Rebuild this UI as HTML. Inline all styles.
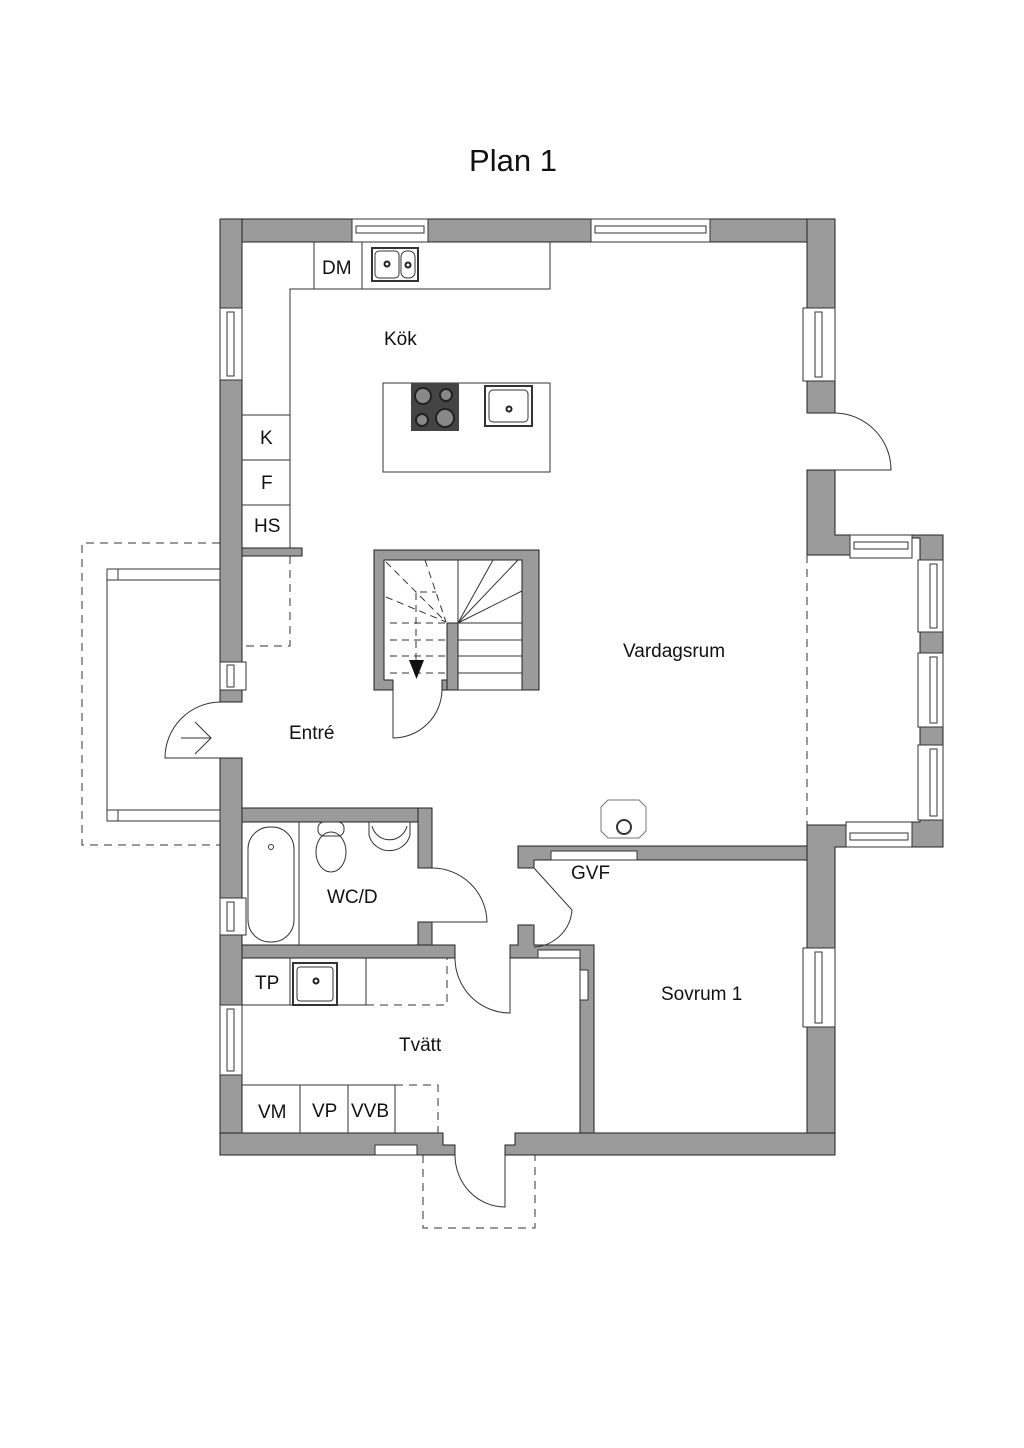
<!DOCTYPE html>
<html><head><meta charset="utf-8"><style>
html,body{margin:0;padding:0;background:#fff}
svg{display:block}
text{font-family:"Liberation Sans",sans-serif;fill:#111}
</style></head><body>
<svg width="1024" height="1448" viewBox="0 0 1024 1448" xmlns="http://www.w3.org/2000/svg">
<text x="513" y="171" font-size="31" text-anchor="middle">Plan 1</text>
<g fill="#9b9b9b" stroke="#222" stroke-width="1">
<rect x="220" y="219" width="132" height="23"/>
<rect x="428" y="219" width="163" height="23"/>
<rect x="710" y="219" width="125" height="23"/>
<rect x="220" y="219" width="22" height="89"/>
<rect x="220" y="380" width="22" height="282"/>
<rect x="220" y="690" width="22" height="12"/>
<rect x="220" y="758" width="22" height="140"/>
<rect x="220" y="935" width="22" height="70"/>
<rect x="220" y="1075" width="22" height="80"/>
<rect x="807" y="219" width="28" height="89"/>
<rect x="807" y="381" width="28" height="32"/>
<path d="M807 470 H835 V535 H850 V555 H807 Z"/>
<path d="M912 535 H943 V560 H920 V538 H912 Z"/>
<rect x="920" y="632" width="23" height="21"/>
<rect x="920" y="727" width="23" height="18"/>
<path d="M920 820 H943 V847 H912 V822 H920 Z"/>
<path d="M807 825 H846 V847 H835 V948 H807 Z"/>
<rect x="807" y="1027" width="28" height="128"/>
<path d="M220 1133 H443 V1145 H455 V1155 H220 Z"/>
<path d="M515 1133 H835 V1155 H505 V1145 H515 Z"/>
<rect x="242" y="808" width="190" height="14"/>
<rect x="418" y="808" width="14" height="60"/>
<rect x="418" y="922" width="14" height="25"/>
<rect x="242" y="945" width="213" height="13"/>
<path d="M518 846 H807 V860 H534 V868 H518 Z"/>
<path d="M518 925 H534 V945 H594 V1133 H580 V958 H510 V945 H518 Z"/>
<rect x="242" y="548" width="60" height="8"/>
<path d="M374 550 H539 V690 H522 V560 H384 V680 H393 V690 H374 Z"/>
<rect x="442" y="680" width="5" height="10"/>
<rect x="447" y="623" width="11" height="67"/>
</g>
<g fill="#fff" stroke="#333" stroke-width="1">
<rect x="352" y="219" width="76" height="23"/><rect x="356" y="226" width="68" height="7"/>
<rect x="591" y="219" width="119" height="23"/><rect x="595" y="226" width="111" height="7"/>
<rect x="220" y="308" width="22" height="72"/><rect x="227" y="312" width="7" height="64"/>
<rect x="220" y="662" width="26" height="28"/><rect x="227" y="665" width="7" height="22"/>
<rect x="220" y="898" width="26" height="37"/><rect x="227" y="902" width="7" height="29"/>
<rect x="220" y="1005" width="22" height="70"/><rect x="227" y="1009" width="7" height="62"/>
<rect x="803" y="308" width="32" height="73"/><rect x="815" y="312" width="7" height="65"/>
<rect x="803" y="948" width="32" height="79"/><rect x="815" y="952" width="7" height="71"/>
<rect x="850" y="535" width="62" height="23"/><rect x="854" y="542" width="54" height="7"/>
<rect x="846" y="822" width="66" height="25"/><rect x="850" y="833" width="58" height="7"/>
<rect x="918" y="560" width="25" height="72"/><rect x="930" y="564" width="7" height="64"/>
<rect x="918" y="653" width="25" height="74"/><rect x="930" y="657" width="7" height="66"/>
<rect x="918" y="745" width="25" height="75"/><rect x="930" y="749" width="7" height="67"/>
<rect x="375" y="1145" width="42" height="10"/>
<rect x="538" y="950" width="42" height="8"/>
<rect x="580" y="970" width="8" height="30"/>
<rect x="551" y="851" width="86" height="9"/>
</g>
<g fill="none" stroke="#333" stroke-width="1">
<path d="M550 242 V289 H290 V548"/>
<line x1="314" y1="242" x2="314" y2="289"/><line x1="362" y1="242" x2="362" y2="289"/>
<line x1="242" y1="415" x2="290" y2="415"/><line x1="242" y1="460" x2="290" y2="460"/><line x1="242" y1="505" x2="290" y2="505"/>
<rect x="383" y="383" width="167" height="89"/>
<rect x="485" y="386" width="47" height="40" stroke-width="2"/><rect x="489" y="390" width="39" height="32" rx="4"/>
<rect x="372" y="248" width="46" height="33" stroke-width="2"/><rect x="375" y="251" width="24" height="27" rx="4"/><rect x="401" y="251" width="14" height="27" rx="6"/>
<path d="M220 543 H82 V845 H220" stroke-dasharray="8,6"/>
<rect x="107" y="569" width="113" height="11"/><rect x="107" y="810" width="113" height="11"/>
<line x1="107" y1="580" x2="107" y2="810"/>
<line x1="118" y1="569" x2="118" y2="580"/><line x1="118" y1="810" x2="118" y2="821"/>
<path d="M220 702 A56 56 0 0 0 165 758 H220"/>
<path d="M181 738 H211 M195 722 L211 738 L195 754"/>
<path d="M290 556 V646 H242" stroke-dasharray="8,6"/>
<path d="M393 690 V738 A49 49 0 0 0 442 690"/>
<line x1="458" y1="560" x2="458" y2="623"/>
<line x1="458" y1="623" x2="493" y2="560"/><line x1="458" y1="623" x2="518" y2="560"/><line x1="458" y1="623" x2="522" y2="591"/>
<line x1="458" y1="623" x2="522" y2="623"/><line x1="458" y1="640" x2="522" y2="640"/><line x1="458" y1="656" x2="522" y2="656"/><line x1="458" y1="673" x2="522" y2="673"/>
<line x1="458" y1="690" x2="522" y2="690"/>
<g stroke-dasharray="7,5">
<line x1="386" y1="562" x2="446" y2="622"/><line x1="425" y1="560" x2="446" y2="622"/><line x1="386" y1="597" x2="446" y2="622"/>
<path d="M416 660 V592 H436"/>
<line x1="390" y1="623" x2="446" y2="623"/><line x1="390" y1="640" x2="446" y2="640"/><line x1="390" y1="656" x2="446" y2="656"/><line x1="390" y1="673" x2="446" y2="673"/>
</g>
<line x1="299" y1="822" x2="299" y2="945"/>
<rect x="248" y="827" width="46" height="115" rx="22"/>
<circle cx="271" cy="847" r="2.5"/>
<rect x="318" y="822" width="26" height="14" rx="6"/><ellipse cx="331" cy="852" rx="15" ry="20"/>
<path d="M369 822 V835 A21 20 0 0 0 410 835 V822"/><path d="M372 826 A18 18 0 0 0 407 826"/>
<path d="M432 868 A55 55 0 0 1 487 922 H432"/>
<path d="M534 868 L572 910 A40 40 0 0 1 534 947"/>
<path d="M455 958 A55 55 0 0 0 510 1013 V958"/>
<path d="M242 1005 H366 V958 M290 958 V1005"/>
<path d="M366 1005 H447 V958" stroke-dasharray="8,6"/>
<rect x="293" y="963" width="44" height="42" stroke-width="2"/><rect x="297" y="967" width="36" height="34" rx="3"/>
<path d="M242 1085 H395 V1133 M300 1085 V1133 M348 1085 V1133"/>
<path d="M395 1085 H438 V1133" stroke-dasharray="8,6"/>
<path d="M455 1155 A50 52 0 0 0 505 1207 V1155"/>
<path d="M423 1155 V1228 H535 V1155" stroke-dasharray="8,6"/>
<path d="M835 413 A57 57 0 0 1 891 470 H835"/>
<line x1="807" y1="555" x2="807" y2="825" stroke-dasharray="8,6"/>
<path d="M608 800 H639 L646 807 V831 L639 838 H608 L601 831 V807 Z" stroke="#777"/>
<circle cx="624" cy="827" r="7" stroke-width="2"/>
</g>
<rect x="411" y="383" width="48" height="48" fill="#444"/>
<g fill="#888" stroke="#222" stroke-width="2">
<circle cx="423" cy="396" r="8"/><circle cx="446" cy="395" r="6"/><circle cx="422" cy="420" r="6"/><circle cx="445" cy="418" r="9"/>
</g>
<g fill="#fff" stroke="#222" stroke-width="2"><circle cx="387" cy="264" r="2.5"/><circle cx="408" cy="265" r="2.5"/><circle cx="509" cy="409" r="2.5"/><circle cx="316" cy="981" r="2.5"/></g>
<path d="M409 660 L424 660 L416.5 679 Z" fill="#111"/>
<g font-size="19">
<text x="322" y="274">DM</text>
<text x="384" y="345">Kök</text>
<text x="260" y="444">K</text>
<text x="261" y="489">F</text>
<text x="254" y="532">HS</text>
<text x="623" y="657">Vardagsrum</text>
<text x="289" y="739">Entré</text>
<text x="327" y="903">WC/D</text>
<text x="571" y="879">GVF</text>
<text x="661" y="1000">Sovrum 1</text>
<text x="255" y="989">TP</text>
<text x="399" y="1051">Tvätt</text>
<text x="258" y="1118">VM</text>
<text x="312" y="1117">VP</text>
<text x="351" y="1117">VVB</text>
</g>
</svg>
</body></html>
